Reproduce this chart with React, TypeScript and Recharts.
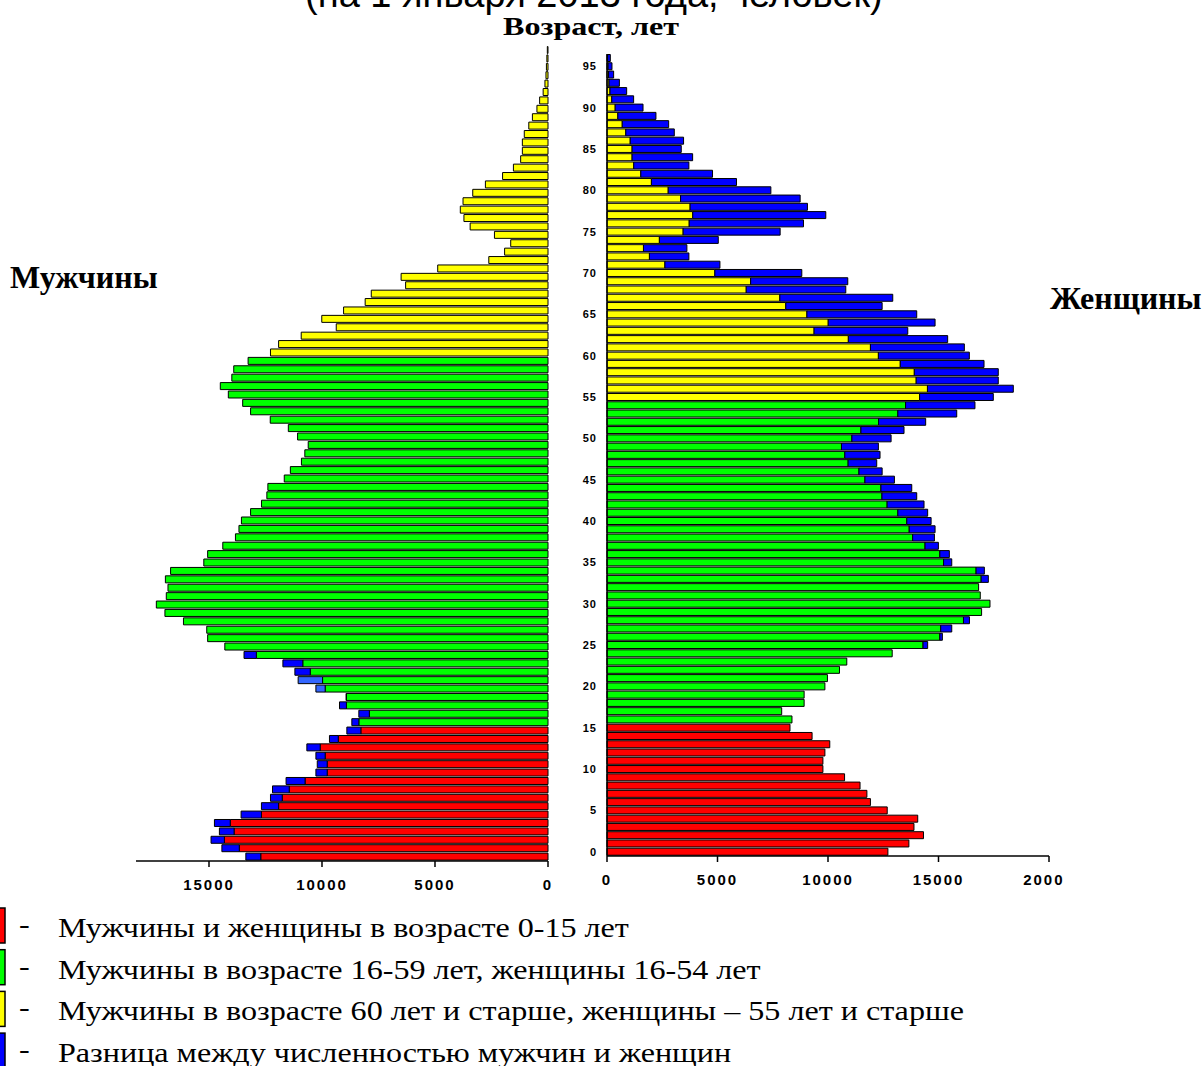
import { BarChart, Bar, XAxis, YAxis, Cell } from 'recharts'

// возраст, лет
const ages = [
  0, 1, 2, 3, 4, 5, 6, 7, 8, 9, 10, 11, 12, 13, 14, 15, 16, 17, 18, 19,
  20, 21, 22, 23, 24, 25, 26, 27, 28, 29, 30, 31, 32, 33, 34, 35, 36, 37, 38, 39,
  40, 41, 42, 43, 44, 45, 46, 47, 48, 49, 50, 51, 52, 53, 54, 55, 56, 57, 58, 59,
  60, 61, 62, 63, 64, 65, 66, 67, 68, 69, 70, 71, 72, 73, 74, 75, 76, 77, 78, 79,
  80, 81, 82, 83, 84, 85, 86, 87, 88, 89, 90, 91, 92, 93, 94, 95, 96,
]

const men = [
  13370, 14430, 14910, 14540, 14760, 13580, 12680, 12280, 12190, 11590,
  10270, 10210, 10270, 10670, 9670, 8900, 8680, 8370, 9225, 8930,
  10270, 11055, 11200, 11730, 13450, 14300, 15060, 15100, 16130, 16950,
  17330, 16890, 16815, 16930, 16700, 15230, 15060, 14390, 13830, 13675,
  13565, 13160, 12675, 12440, 12395, 11670, 11400, 10910, 10760, 10610,
  11080, 11490, 12290, 13160, 13510, 14145, 14500, 13990, 13905, 13270,
  12280, 11920, 10920, 9370, 10010, 9045, 8090, 7820, 6300, 6500,
  4880, 2620, 1920, 1650, 2370, 3445, 3720, 3880, 3760, 3330,
  2770, 2010, 1530, 1210, 1135, 1135, 1050, 850, 690, 490,
  370, 215, 135, 90, 70, 50, 30,
]

const women = [
  12710, 13660, 14320, 13890, 14060, 12680, 11920, 11760, 11450, 10750,
  9770, 9770, 9860, 10080, 9280, 8280, 8370, 7905, 8920, 8920,
  9860, 9975, 10520, 10850, 12905, 14510, 15175, 15600, 16400, 16950,
  17330, 16890, 16815, 17255, 17075, 15600, 15490, 14995, 14815, 14845,
  14665, 14510, 14345, 14015, 13790, 13005, 12450, 12205, 12355, 12280,
  12855, 13440, 14420, 15825, 16650, 17480, 18385, 17705, 17705, 17060,
  16395, 16170, 15415, 13610, 14845, 14015, 12450, 12930, 10805, 10895,
  8815, 5110, 3705, 3615, 5035, 7835, 8890, 9900, 9070, 8740,
  7415, 5860, 4775, 3705, 3875, 3360, 3465, 3045, 2790, 2215,
  1630, 1205, 890, 560, 300, 225, 150,
]

const menTicks = [0, 5000, 10000, 15000]
const womenTicks = [0, 5000, 10000, 15000, 20000]

// у мужчин разница 20-21 лет выделена светлее
const lightDiffAges = [20, 21]

const RED = '#FF0000'
const GREEN = '#00FF00'
const YELLOW = '#FFFF00'
const BLUE = '#0000FF'
const LIGHT_BLUE = '#3366FF'

const rows = ages.map((age, i) => {
  const m = men[i]
  const w = women[i]
  return {
    age,
    base: Math.min(m, w),
    menDiff: Math.max(0, m - w),
    womenDiff: Math.max(0, w - m),
  }
})

const menColor = (age: number): string => (age <= 15 ? RED : age <= 59 ? GREEN : YELLOW)
const womenColor = (age: number): string => (age <= 15 ? RED : age <= 54 ? GREEN : YELLOW)

const SANS = '"Liberation Sans", Arial, sans-serif'
const SERIF = '"Liberation Serif", "Times New Roman", serif'

const xTick = { fontSize: 15, fontWeight: 700, fill: '#000', fontFamily: SANS, letterSpacing: 2 }
const axisLine = { stroke: '#000', strokeWidth: 1.5 }

const legendItems = [
  { color: RED, text: 'Мужчины и женщины в возрасте 0-15 лет' },
  { color: GREEN, text: 'Мужчины в возрасте 16-59 лет, женщины 16-54  лет' },
  { color: YELLOW, text: 'Мужчины в возрасте 60 лет и старше, женщины – 55 лет и старше' },
  { color: BLUE, text: 'Разница между численностью мужчин и женщин' },
]

function MenChart(): React.ReactElement {
  return (
    <BarChart
      layout="vertical"
      width={440}
      height={901}
      data={rows}
      margin={{ top: 46, right: 12, left: 16, bottom: 0 }}
      barCategoryGap={0.5}
    >
      <XAxis
        type="number"
        reversed
        domain={[0, 18230]}
        ticks={menTicks}
        interval={0}
        height={40}
        tick={xTick}
        tickMargin={12}
        axisLine={axisLine}
        tickLine={{ stroke: '#000', strokeWidth: 1.5 }}
      />
      <YAxis
        type="category"
        dataKey="age"
        orientation="right"
        reversed
        width={0}
        tick={false}
        tickLine={false}
        axisLine={axisLine}
      />
      <Bar dataKey="base" stackId="m" stroke="#000" strokeWidth={1} isAnimationActive={false}>
        {rows.map((r) => (
          <Cell key={r.age} fill={menColor(r.age)} />
        ))}
      </Bar>
      <Bar dataKey="menDiff" stackId="m" stroke="#000" strokeWidth={1} isAnimationActive={false}>
        {rows.map((r) => (
          <Cell key={r.age} fill={lightDiffAges.includes(r.age) ? LIGHT_BLUE : BLUE} />
        ))}
      </Bar>
    </BarChart>
  )
}

function WomenChart(): React.ReactElement {
  return (
    <BarChart
      layout="vertical"
      width={503}
      height={896}
      data={rows}
      margin={{ top: 54, right: 14, left: 0, bottom: 0 }}
      barCategoryGap={0.5}
    >
      <XAxis
        type="number"
        domain={[0, 20000]}
        ticks={womenTicks}
        interval={0}
        height={40}
        tick={xTick}
        tickMargin={12}
        axisLine={axisLine}
        tickLine={{ stroke: '#000', strokeWidth: 1.5 }}
      />
      <YAxis
        type="category"
        dataKey="age"
        reversed
        width={47}
        interval={4}
        tick={{ fontSize: 11, fontWeight: 700, fill: '#000', fontFamily: SANS, letterSpacing: 1 }}
        tickLine={false}
        tickMargin={4}
        axisLine={axisLine}
      />
      <Bar dataKey="base" stackId="w" stroke="#000" strokeWidth={1} isAnimationActive={false}>
        {rows.map((r) => (
          <Cell key={r.age} fill={womenColor(r.age)} />
        ))}
      </Bar>
      <Bar dataKey="womenDiff" stackId="w" fill={BLUE} stroke="#000" strokeWidth={1} isAnimationActive={false} />
    </BarChart>
  )
}

export default function App(): React.ReactElement {
  return (
    <div style={{ position: 'absolute', left: 0, top: 0, width: 1204, height: 1066, overflow: 'hidden', background: '#fff' }}>
      <div style={{ position: 'absolute', left: 120, top: 0 }}>
        <MenChart />
      </div>
      <div style={{ position: 'absolute', left: 560, top: 0 }}>
        <WomenChart />
      </div>
      <svg width={1204} height={1066} style={{ position: 'absolute', left: 0, top: 0, pointerEvents: 'none' }}>
        <text x={305} y={7} fontFamily={SANS} fontSize={38} fill="#000">
          (на 1 января 2013 года, человек)
        </text>
        <text transform="translate(503, 35) scale(1.236, 1)" fontFamily={SERIF} fontWeight={700} fontSize={26} fill="#000">
          Возраст, лет
        </text>
        <text x={10} y={288} fontFamily={SERIF} fontWeight={700} fontSize={32} fill="#000">
          Мужчины
        </text>
        <text x={1050} y={309} fontFamily={SERIF} fontWeight={700} fontSize={32} fill="#000">
          Женщины
        </text>
        {legendItems.map((item, i) => (
          <g key={item.text}>
            <rect x={-5} y={908 + i * 41.7} width={10} height={35} fill={item.color} stroke="#000" strokeWidth={1.5} />
            <text transform={`translate(19, ${933 + i * 41.5}) scale(1.19, 1)`} fontFamily={SERIF} fontSize={27} fill="#000">-</text>
            <text transform={`translate(58, ${937 + i * 41.5}) scale(1.19, 1)`} fontFamily={SERIF} fontSize={27} fill="#000">
              {item.text}
            </text>
          </g>
        ))}
      </svg>
    </div>
  )
}
